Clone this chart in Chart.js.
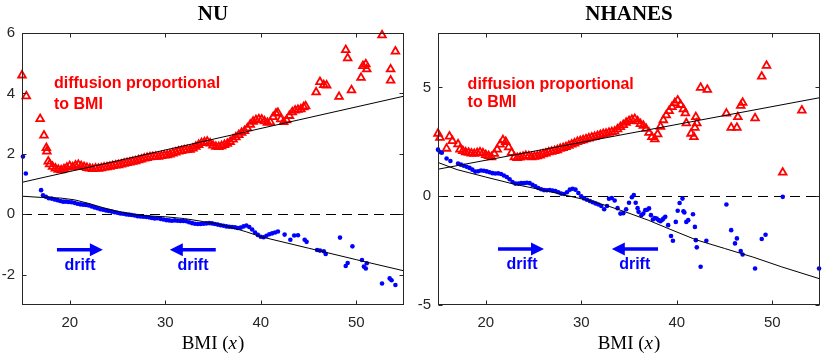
<!DOCTYPE html>
<html>
<head>
<meta charset="utf-8">
<script src="https://cdn.jsdelivr.net/npm/chart.js@4.4.0/dist/chart.umd.min.js"></script>
<style>
  body { margin: 0; background: #fff; }
  #wrap { position: relative; width: 830px; height: 363px; }
  canvas { position: absolute; top: 0; }
</style>
</head>
<body>
<div id="wrap">
  <canvas id="nu" width="415" height="363" style="left:0"></canvas>
  <canvas id="nhanes" width="415" height="363" style="left:415px"></canvas>
</div>
<script>
// ---- data: [BMI, value] ----
const xTicks = [20, 30, 40, 50];
const nuYTicks = [-2, 0, 2, 4, 6];
const nhYTicks = [-5, 0, 5];

// NU: diffusion (red triangles)
const nuDiffusion = [
  [15.0,4.60],[15.45,3.91],[16.9,3.16],[17.3,2.61],[17.55,2.20],[17.6,2.08],[17.75,1.75],
  [17.9,1.66],[18.2,1.58],[18.5,1.52],[18.8,1.48],[19.1,1.46],[19.4,1.50],[19.7,1.55],[20.0,1.60],
  [20.3,1.56],[20.6,1.62],[20.9,1.64],[21.2,1.60],[21.5,1.57],[21.8,1.54],[22.1,1.52],[22.4,1.50],
  [22.7,1.52],[23.0,1.51],[23.3,1.53],[23.6,1.55],[23.9,1.56],[24.2,1.58],[24.5,1.60],[24.8,1.62],
  [25.1,1.63],[25.4,1.65],[25.7,1.68],[26.0,1.70],[26.3,1.72],[26.6,1.74],[26.9,1.76],[27.2,1.79],
  [27.5,1.82],[27.8,1.85],[28.1,1.87],[28.4,1.89],[28.7,1.90],[29.0,1.91],[29.3,1.91],[29.6,1.93],
  [29.9,1.95],[30.2,1.96],[30.5,1.98],[30.8,2.02],[31.1,2.05],[31.4,2.08],[31.7,2.10],[32.0,2.12],
  [32.3,2.13],[32.6,2.14],[32.9,2.18],[33.2,2.24],[33.5,2.30],[33.8,2.36],[34.1,2.39],[34.4,2.41],
  [34.7,2.35],[35.0,2.28],[35.3,2.24],[35.6,2.23],[35.9,2.26],[36.2,2.30],[36.5,2.34],[36.8,2.40],
  [37.1,2.48],[37.4,2.55],[37.7,2.63],[38.0,2.70],[38.3,2.76],[38.6,2.85],[38.9,2.97],[39.2,3.07],
  [39.5,3.12],[39.8,3.15],[40.1,3.14],[40.4,3.08],[40.7,3.03],[41.0,3.05],[41.3,3.22],[41.6,3.34],
  [41.8,3.36],[42.1,3.15],[42.4,3.06],[42.7,3.12],[43.0,3.26],[43.3,3.38],[43.6,3.44],[43.9,3.46],
  [44.2,3.48],[44.5,3.55],[44.7,3.58],
  [45.8,4.04],[46.2,4.38],[46.6,4.28],[46.9,4.27],[48.2,3.89],[48.9,5.44],[49.1,5.17],[49.5,4.11],
  [50.5,4.52],[50.7,4.91],[51.0,4.97],[51.1,4.80],[52.7,5.93],[53.6,4.80],[53.6,4.43],[54.1,5.39]
];

// NU: drift (blue dots)
const nuDrift = [
  [15.1,1.91],[15.4,1.35],[17.0,0.80],
  [17.2,0.63],[17.5,0.58],[17.8,0.53],[18.1,0.52],[18.4,0.49],[18.7,0.47],[19.0,0.44],[19.3,0.42],
  [19.6,0.42],[19.9,0.41],[20.2,0.40],[20.5,0.38],[20.8,0.35],[21.1,0.33],[21.4,0.32],[21.7,0.31],
  [22.0,0.29],[22.3,0.26],[22.6,0.23],[22.9,0.20],[23.2,0.17],[23.5,0.15],[23.8,0.13],[24.1,0.11],
  [24.4,0.09],[24.7,0.07],[25.0,0.05],[25.3,0.03],[25.6,0.02],[25.9,0.00],[26.2,-0.01],[26.5,-0.02],
  [26.8,-0.04],[27.1,-0.06],[27.4,-0.07],[27.7,-0.08],[28.0,-0.09],[28.3,-0.10],[28.6,-0.12],
  [28.9,-0.14],[29.2,-0.13],[29.5,-0.15],[29.8,-0.17],[30.1,-0.19],[30.4,-0.20],[30.7,-0.21],
  [31.0,-0.20],[31.3,-0.21],[31.6,-0.22],[31.9,-0.22],[32.2,-0.23],[32.5,-0.26],[32.8,-0.29],
  [33.1,-0.31],[33.4,-0.32],[33.7,-0.32],[34.0,-0.31],[34.3,-0.30],[34.6,-0.29],[34.9,-0.30],
  [35.2,-0.32],[35.5,-0.34],[35.8,-0.36],[36.1,-0.38],[36.4,-0.40],[36.7,-0.41],[37.0,-0.42],
  [37.3,-0.43],[37.6,-0.45],[37.9,-0.44],[38.2,-0.40],[38.5,-0.37],[38.8,-0.42],[39.1,-0.50],
  [39.4,-0.60],[39.7,-0.68],[40.0,-0.74],[40.3,-0.76],[40.6,-0.71],[40.9,-0.66],[41.2,-0.63],
  [41.5,-0.60],[41.8,-0.57],
  [42.5,-0.67],[43.1,-0.84],[43.5,-0.70],[43.9,-0.69],[44.6,-0.84],[44.8,-0.91],[45.9,-1.18],
  [46.2,-1.20],[46.6,-1.22],[46.8,-1.31],[48.3,-0.77],[48.9,-1.71],[49.1,-1.61],[49.6,-1.06],
  [50.6,-1.51],[50.8,-1.73],[51.0,-1.79],[51.1,-1.62],[52.7,-2.29],[53.5,-2.12],[53.7,-2.18],[54.1,-2.34]
];

const nuDiffusionFit = [[15,1.06],[55,3.91]];
const nuDriftFit = [
  [15,0.60],[17,0.56],[19,0.54],[20.5,0.48],[22,0.36],[23.5,0.22],[25,0.10],[26.5,0.0],[28,-0.05],
  [30,-0.08],[32,-0.14],[34,-0.24],[35.5,-0.32],[37,-0.44],[38.5,-0.58],[40,-0.74],[45,-1.12],
  [50,-1.50],[55,-1.87]
];

// NHANES: diffusion (red triangles)
const nhDiffusion = [
  [15.0,2.88],[15.2,2.69],[15.9,2.19],[16.2,2.75],[16.5,2.54],[17.1,2.39],
  [17.3,2.15],[17.6,2.08],[17.9,2.02],[18.2,2.00],[18.5,1.97],[18.8,1.95],[19.1,1.99],[19.4,2.02],
  [19.7,1.98],[20.0,1.90],[20.3,1.85],[20.6,1.80],[20.9,1.95],[21.2,2.15],[21.5,2.38],[21.8,2.58],
  [22.1,2.50],[22.4,2.25],[22.7,2.00],[23.0,1.80],[23.3,1.76],[23.6,1.78],[23.9,1.82],[24.2,1.86],
  [24.5,1.84],[24.8,1.80],[25.1,1.82],[25.4,1.84],[25.7,1.88],[26.0,1.93],[26.3,1.97],[26.6,2.02],
  [26.9,2.05],[27.2,2.08],[27.5,2.12],[27.8,2.18],[28.1,2.22],[28.4,2.26],[28.7,2.32],[29.0,2.38],
  [29.3,2.43],[29.6,2.50],[29.9,2.54],[30.2,2.58],[30.5,2.62],[30.8,2.66],[31.1,2.70],[31.4,2.73],
  [31.7,2.77],[32.0,2.82],[32.3,2.86],[32.6,2.88],[32.9,2.92],[33.2,2.95],[33.5,2.98],[33.8,3.08],
  [34.1,3.18],[34.4,3.28],[34.7,3.38],[35.0,3.46],[35.3,3.52],[35.6,3.55],[35.9,3.45],[36.2,3.32],
  [36.5,3.24],[36.8,3.10],[37.1,2.92],[37.4,2.72],[37.7,2.62],[38.0,2.85],[38.3,3.20],[38.6,3.50],
  [38.9,3.72],[39.2,3.92],[39.5,4.10],[39.8,4.28],[40.1,4.40],[40.4,4.20],[40.7,4.00],[40.9,3.82],
  [41.0,3.36],[41.5,2.88],[41.8,2.72],[41.9,3.15],[42.0,3.64],[42.1,3.36],[42.5,4.99],[43.2,4.90],
  [45.2,3.80],[45.7,3.15],[46.3,3.15],[46.4,3.64],[46.7,4.16],[46.9,4.30],[48.2,3.59],[48.9,5.50],
  [49.4,6.00],[51.1,1.09],[53.1,3.94]
];

// NHANES: drift (blue dots)
const nhDrift = [
  [15.0,2.14],[15.2,2.03],[15.4,2.00],[15.9,1.73],[16.3,1.62],[17.1,1.50],
  [17.4,1.45],[17.7,1.40],[18.0,1.35],[18.3,1.30],[18.6,1.22],[18.9,1.13],[19.2,1.15],[19.5,1.18],
  [19.8,1.17],[20.1,1.14],[20.4,1.10],[20.7,1.06],[21.0,1.04],[21.3,1.05],[21.6,1.02],[21.9,0.95],
  [22.2,0.88],[22.5,0.78],[22.8,0.65],[23.1,0.58],[23.4,0.58],[23.7,0.60],[24.0,0.60],[24.3,0.62],
  [24.6,0.60],[24.9,0.52],[25.2,0.45],[25.5,0.38],[25.8,0.32],[26.1,0.28],[26.4,0.27],[26.7,0.28],
  [27.0,0.26],[27.3,0.24],[27.6,0.18],[27.9,0.12],[28.2,0.10],[28.5,0.18],[28.8,0.30],[29.1,0.34],
  [29.4,0.30],[29.7,0.15],[30.0,0.00],[30.3,-0.10],[30.6,-0.16],[30.9,-0.22],[31.2,-0.28],
  [31.5,-0.33],[31.8,-0.38],[32.1,-0.45],[32.4,-0.60],[32.7,-0.45],[32.9,-0.12],[33.2,-0.08],
  [33.5,-0.20],[33.8,-0.55],[34.1,-0.80],[34.4,-0.78],[34.7,-0.60],[35.0,-0.30],[35.3,-0.05],
  [35.5,0.05],[35.7,-0.30],[35.9,-0.55],
  [36.0,-0.72],[36.3,-0.87],[36.5,-0.80],[36.7,-0.64],[36.9,-0.62],[37.1,-0.56],[37.3,-0.87],
  [37.5,-1.07],[37.7,-1.00],[37.9,-1.03],[38.1,-1.10],[38.3,-1.15],[38.5,-1.08],[38.6,-1.03],
  [38.8,-0.95],[39.1,-1.33],[39.4,-1.83],[39.6,-2.05],[39.9,-1.18],[40.1,-0.67],[40.3,-0.31],
  [40.6,-0.11],[40.7,-0.69],[40.8,-0.75],[41.0,-1.18],[41.2,-1.10],[41.7,-0.83],[41.9,-1.41],
  [42.0,-2.02],[42.1,-2.35],[42.5,-3.24],[43.1,-2.05],[45.2,-0.38],[45.7,-1.56],[46.1,-2.17],
  [46.3,-1.94],[46.7,-2.52],[46.9,-2.68],[48.2,-3.32],[48.9,-1.97],[49.3,-1.77],[51.1,-0.03],[54.9,-3.32]
];

const nhDiffusionFit = [[15,1.24],[55,4.53]];
const nhDriftFit = [
  [15,1.55],[17,1.22],[20,0.88],[23,0.55],[26,0.28],[28.6,0.02],[31,-0.22],[33,-0.48],[35,-0.78],
  [37,-1.10],[39.3,-1.52],[42,-2.0],[45,-2.4],[48,-2.8],[51,-3.25],[55,-3.8]
];

// ---- drawing ----
const RED = '#ff0000', BLUE = '#0000ff', AXIS = '#262626';
const SANS = '"Liberation Sans", Arial, Helvetica, sans-serif';
const SERIF = '"Liberation Serif", "Times New Roman", serif';

const toXY = arr => arr.map(p => ({x: p[0], y: p[1]}));

function arrow(ctx, x1, x2, y) {
  const dir = Math.sign(x2 - x1), head = 13, half = 6.5;
  ctx.beginPath();
  ctx.moveTo(x1, y);
  ctx.lineTo(x2 - dir * head + dir, y);
  ctx.stroke();
  ctx.beginPath();
  ctx.moveTo(x2, y);
  ctx.lineTo(x2 - dir * head, y - half);
  ctx.lineTo(x2 - dir * head, y + half);
  ctx.closePath();
  ctx.fill();
}

function framePlugin(p) {
  return {
    id: 'frame',
    beforeDatasetsDraw(chart) {
      const {ctx, chartArea: a, scales: {y}} = chart;
      const y0 = Math.round(y.getPixelForValue(0)) + 0.5;
      ctx.save();
      ctx.strokeStyle = '#000';
      ctx.lineWidth = 1;
      ctx.setLineDash([10, 6]);
      ctx.beginPath();
      ctx.moveTo(a.left, y0);
      ctx.lineTo(a.right, y0);
      ctx.stroke();
      ctx.restore();
    },
    afterDraw(chart) {
      const {ctx, chartArea: a, scales: {x, y}} = chart;
      const L = Math.round(a.left) + 0.5, R = Math.round(a.right) - 0.5;
      const T = Math.round(a.top) + 0.5, B = Math.round(a.bottom) - 0.5;
      ctx.save();
      // box + inward ticks
      ctx.strokeStyle = AXIS;
      ctx.lineWidth = 1;
      ctx.strokeRect(L, T, R - L, B - T);
      ctx.beginPath();
      xTicks.forEach(v => {
        const px = Math.round(x.getPixelForValue(v)) + 0.5;
        ctx.moveTo(px, B); ctx.lineTo(px, B - 4);
        ctx.moveTo(px, T); ctx.lineTo(px, T + 4);
      });
      p.yTicks.forEach(v => {
        const py = Math.round(y.getPixelForValue(v)) + 0.5;
        ctx.moveTo(L, py); ctx.lineTo(L + 4, py);
        ctx.moveTo(R, py); ctx.lineTo(R - 4, py);
      });
      ctx.stroke();

      // title
      const cx = (a.left + a.right) / 2;
      ctx.fillStyle = '#000';
      ctx.textAlign = 'center';
      ctx.textBaseline = 'middle';
      ctx.font = 'bold 21px ' + SERIF;
      ctx.fillText(p.title, cx, 15);

      // x label: BMI (x) with italic x
      ctx.textBaseline = 'alphabetic';
      ctx.textAlign = 'left';
      const f1 = '19px ' + SERIF, f2 = 'italic 19px ' + SERIF;
      ctx.font = f1; const w1 = ctx.measureText('BMI (').width, w3 = ctx.measureText(')').width;
      ctx.font = f2; const w2 = ctx.measureText('x').width + 1;
      let sx = cx - (w1 + w2 + w3) / 2;
      const by = 349;
      ctx.font = f1; ctx.fillText('BMI (', sx, by);
      ctx.font = f2; ctx.fillText('x', sx + w1, by);
      ctx.font = f1; ctx.fillText(')', sx + w1 + w2, by);

      // annotations
      ctx.fillStyle = RED;
      ctx.font = 'bold 16px ' + SANS;
      p.diffText.forEach(t => ctx.fillText(t[0], x.getPixelForValue(t[1]), y.getPixelForValue(t[2])));
      ctx.fillStyle = BLUE;
      ctx.strokeStyle = BLUE;
      ctx.lineWidth = 3.5;
      ctx.textAlign = 'center';
      p.arrows.forEach(ar => {
        arrow(ctx, x.getPixelForValue(ar[0]), x.getPixelForValue(ar[1]), y.getPixelForValue(ar[2]));
      });
      p.driftText.forEach(t => ctx.fillText('drift', x.getPixelForValue(t[0]), y.getPixelForValue(t[1])));
      ctx.restore();
    }
  };
}

function makeChart(id, p) {
  return new Chart(document.getElementById(id).getContext('2d'), {
    type: 'scatter',
    data: {
      datasets: [
        { type: 'line', data: toXY(p.diffFit), borderColor: '#000', borderWidth: 1,
          pointRadius: 0, tension: 0, fill: false, order: 0 },
        { type: 'line', data: toXY(p.driftFit), borderColor: '#000', borderWidth: 1,
          pointRadius: 0, tension: 0, fill: false, order: 0 },
        { data: toXY(p.drift), pointStyle: 'circle', pointRadius: 2.3, pointBorderWidth: 0,
          backgroundColor: BLUE, borderColor: BLUE, clip: false, order: 1 },
        { data: toXY(p.diffusion), pointStyle: 'triangle', pointRadius: 4.4, pointBorderWidth: 1.8,
          backgroundColor: 'rgba(0,0,0,0)', borderColor: RED, clip: false, order: 2 }
      ]
    },
    options: {
      responsive: false,
      animation: false,
      events: [],
      layout: { padding: { top: 33, right: p.padRight, left: 0, bottom: 0 } },
      plugins: { legend: { display: false }, tooltip: { enabled: false } },
      scales: {
        x: {
          type: 'linear', min: 15, max: 55,
          afterBuildTicks: s => { s.ticks = xTicks.map(v => ({value: v})); },
          afterFit: s => { s.height = 58; },
          grid: { display: false, drawTicks: false },
          border: { display: false },
          ticks: { color: AXIS, font: { family: SANS, size: 15 }, padding: 9 }
        },
        y: {
          type: 'linear', min: p.yMin, max: p.yMax,
          afterBuildTicks: s => { s.ticks = p.yTicks.map(v => ({value: v})); },
          afterFit: s => { s.width = p.yWidth; },
          grid: { display: false, drawTicks: false },
          border: { display: false },
          ticks: { color: AXIS, font: { family: SANS, size: 15 }, padding: 7 }
        }
      }
    },
    plugins: [framePlugin(p)]
  });
}

makeChart('nu', {
  title: 'NU', yMin: -3, yMax: 6, yTicks: nuYTicks, yWidth: 22, padRight: 11,
  diffusion: nuDiffusion, drift: nuDrift, diffFit: nuDiffusionFit, driftFit: nuDriftFit,
  diffText: [['diffusion proportional', 18.35, 4.19], ['to BMI', 18.35, 3.50]],
  arrows: [[18.66, 23.47, -1.17], [35.29, 30.48, -1.17]],
  driftText: [[21.07, -1.84], [32.9, -1.84]]
});

makeChart('nhanes', {
  title: 'NHANES', yMin: -5, yMax: 7.5, yTicks: nhYTicks, yWidth: 23, padRight: 10,
  diffusion: nhDiffusion, drift: nhDrift, diffFit: nhDiffusionFit, driftFit: nhDriftFit,
  diffText: [['diffusion proportional', 18.1, 4.94], ['to BMI', 18.1, 4.08]],
  arrows: [[21.28, 26.1, -2.43], [38.04, 33.2, -2.43]],
  driftText: [[23.8, -3.36], [35.6, -3.36]]
});
</script>
</body>
</html>
